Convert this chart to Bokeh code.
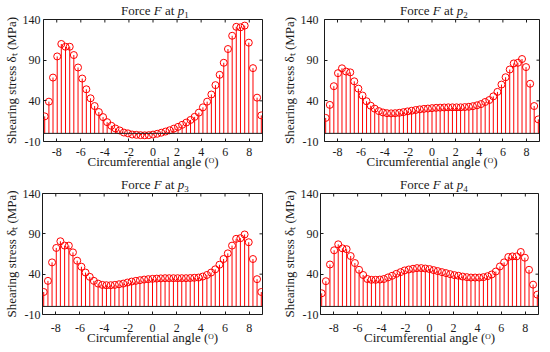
import math
from bokeh.plotting import figure
from bokeh.models import Range1d, FixedTicker, Span, ColumnDataSource, Div
from bokeh.layouts import column, row
from bokeh.embed import file_html
from bokeh.resources import INLINE

angle = [-9.00, -8.65, -8.31, -7.96, -7.62, -7.27, -6.92, -6.58, -6.23, -5.88,
         -5.54, -5.19, -4.85, -4.50, -4.15, -3.81, -3.46, -3.12, -2.77, -2.42,
         -2.08, -1.73, -1.38, -1.04, -0.69, -0.35, 0.00, 0.35, 0.69, 1.04,
         1.38, 1.73, 2.08, 2.42, 2.77, 3.12, 3.46, 3.81, 4.15, 4.50,
         4.85, 5.19, 5.54, 5.88, 6.23, 6.58, 6.92, 7.27, 7.62, 7.96,
         8.31, 8.65, 9.00]

stress_p1 = [20.9, 39, 68.6, 94.6, 109.9, 106.5, 106.5, 96.3, 81, 67.4,
             54.2, 43.1, 33.6, 26.2, 20, 13.8, 9.3, 6, 3.6, 1,
             0, -1.4, -1.8, -2.2, -2.4, -2.2, -1.5, -0.5, 0.8, 2.2,
             3.8, 5.8, 8, 10.5, 13.3, 16.5, 20.3, 25.5, 32, 39,
             47.8, 59.3, 72, 86.8, 103.7, 120, 131, 130.4, 132.5, 111.5,
             80.2, 43.9, 22.1]

stress_p2 = [19, 35, 58, 74, 80, 76, 75, 64, 55, 46.5,
             39.5, 34, 30.4, 27.4, 25.7, 24.8, 24.6, 24.8, 25.3, 26.1,
             27, 27.8, 28.7, 29.5, 30.1, 30.5, 31, 31.4, 31.6, 31.8,
             32, 32, 32, 32, 32.3, 32.7, 33.4, 34.5, 36, 38.6,
             41, 45.5, 51, 60, 69, 78.5, 86, 86.8, 91.4, 81.5,
             61, 33.6, 17.2]

stress_p3 = [17.9, 31.7, 54.6, 72.5, 80.8, 75.4, 75.4, 67, 56.7, 49.2,
             42, 36.7, 31.7, 28.3, 26.7, 26.3, 26.3, 26.7, 27.5, 28.3,
             29.6, 30.8, 31.7, 32.5, 33.3, 33.8, 34.2, 34.5, 34.8, 35,
             35, 35, 35, 35, 35, 35.2, 35.5, 35.8, 37, 39,
             42, 46, 51.7, 58.8, 65.8, 75.4, 83.8, 84.6, 89.2, 79.6,
             58.8, 33.8, 17.9]

stress_p4 = [16.3, 31.3, 52, 69.6, 77, 72, 71, 62.5, 53.8, 45.4,
             39, 34, 33, 33, 33.3, 34, 36, 38, 40.4, 42.5,
             44.6, 45.8, 46.7, 47.5, 47.5, 47, 46.3, 45, 43.8, 42.5,
             41.3, 40, 38.8, 38, 37, 36.3, 35.8, 35.8, 35.8, 36.3,
             37.5, 39.6, 43.3, 49.6, 54.6, 61.3, 62, 62, 67.5, 60.4,
             45.4, 27, 14.6]

x_ticks = [-8, -6, -4, -2, 0, 2, 4, 6, 8]
x_tick_labels = ["-8", "-6", "-4", "-2", "0", "2", "4", "6", "8"]
y_ticks = [-10, 40, 90, 140]
y_tick_labels = ["-10", "40", "90", "140"]
position_labels = ["1", "2", "3", "4"]

x_label = "Circumferential angle (\u1d3c)"
y_label = "Shearing stress \u03b4\u209c (MPa)"

SERIF = "Liberation Serif"
RED = "#ff0000"
INK = "#1a1a1a"
X_LO, X_HI = -9.1, 9.1
Y_LO, Y_HI = -10, 140


def title_div(sub, width, height, left, top):
    html = ('<div style="padding-left:%dpx; padding-top:%.1fpx; white-space:nowrap; '
            'font-family:\'Liberation Serif\'; font-size:13px; line-height:13px; color:%s;">'
            'Force <i>F</i> at <i>p</i><span style="font-size:9px; position:relative; top:3px;">%s</span>'
            '</div>') % (left, top, INK, sub)
    # the negative bottom margin lets the figure below overlap this strip
    return Div(text=html, width=width, height=height, margin=(0, 0, -height, 0))


def panel(values, w, h, bl, br, bt, bb, y_std, y_lab_std, x_std, x_lab_std):
    p = figure(width=w, height=h, output_backend="svg", toolbar_location=None,
               x_range=Range1d(X_LO, X_HI), y_range=Range1d(Y_LO, Y_HI),
               min_border_left=bl, min_border_right=br,
               min_border_top=bt, min_border_bottom=bb,
               x_axis_label=x_label, y_axis_label=y_label)
    p.background_fill_color = "white"
    p.border_fill_color = "white"
    p.border_fill_alpha = 0
    p.outline_line_color = INK
    p.outline_line_width = 1
    p.outline_line_alpha = 1
    p.xgrid.grid_line_color = None
    p.ygrid.grid_line_color = None

    for ax, ticks, labels in ((p.xaxis, x_ticks, x_tick_labels), (p.yaxis, y_ticks, y_tick_labels)):
        ax.ticker = FixedTicker(ticks=ticks)
        ax.major_label_overrides = {t: s for t, s in zip(ticks, labels)}
        ax.major_tick_in = 3
        ax.major_tick_out = 0
        ax.major_tick_line_color = INK
        ax.minor_tick_line_color = None
        ax.axis_line_color = None
        ax.major_label_text_font = SERIF
        ax.major_label_text_font_size = "12px"
        ax.major_label_text_color = INK
        ax.axis_label_text_font = SERIF
        ax.axis_label_text_font_size = "13px"
        ax.axis_label_text_font_style = "normal"
        ax.axis_label_text_color = INK

    p.xaxis.major_label_standoff = x_std
    p.xaxis.axis_label_standoff = x_lab_std
    p.yaxis.major_label_standoff = y_std
    p.yaxis.axis_label_standoff = y_lab_std

    src = ColumnDataSource(dict(x=angle, y=values))
    p.segment(x0="x", y0=0, x1="x", y1="y", source=src, line_color=RED, line_width=1)
    p.scatter("x", "y", source=src, marker="circle", size=7, fill_color=None,
              line_color=RED, line_width=1)
    p.add_layout(Span(location=0, dimension="width", line_color=INK, line_width=1))

    # inward tick marks on the top and right edges of the box (half of each dash is clipped)
    p.scatter(x=x_ticks, y=[Y_HI] * len(x_ticks), marker="dash", angle=math.pi / 2,
              size=6, line_color=INK, line_width=1)
    p.scatter(x=[X_HI] * len(y_ticks), y=y_ticks, marker="dash", angle=0,
              size=6, line_color=INK, line_width=1)
    return p


tl = panel(stress_p1, 278, 176, 42, 16, 19, 35, 3, 1, 6, -5)
tr = panel(stress_p2, 272, 176, 43, 11, 19, 35, 6, 1, 6, -5)
bl = panel(stress_p3, 278, 176, 42, 16, 17, 38, 2, 1, 9, -5)
br = panel(stress_p4, 272, 176, 42, 12, 17, 38, 2, 1, 9, -5)

t_tl = title_div(position_labels[0], 278, 19, 121, 3.8)
t_tr = title_div(position_labels[1], 272, 19, 122, 3.8)
t_bl = title_div(position_labels[2], 278, 17, 121, 1.6)
t_br = title_div(position_labels[3], 272, 17, 122, 1.6)

layout = column(row(column(t_tl, tl), column(t_tr, tr)),
                row(column(t_bl, bl), column(t_br, br)))
open("out.html", "w").write(file_html(layout, INLINE))
